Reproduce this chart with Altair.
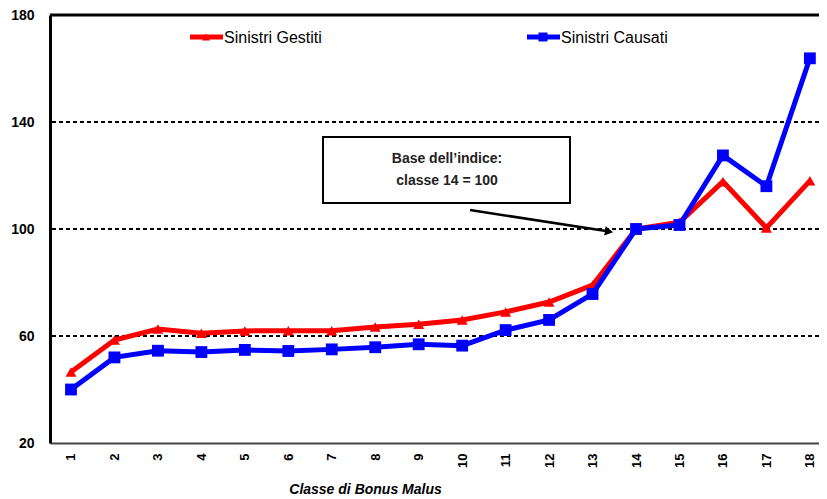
import altair as alt
import pandas as pd

classes = list(range(1, 19))
gestiti = [46.5, 58.5, 62.6, 61.0, 61.9, 62.0, 62.0, 63.4, 64.4, 66.0, 69.0, 72.7, 79.0, 100.0, 102.5, 117.7, 100.4, 118.0]
causati = [40.0, 52.0, 54.5, 54.0, 54.8, 54.4, 55.0, 55.8, 56.9, 56.4, 62.2, 66.0, 75.7, 100.0, 101.5, 127.5, 116.0, 163.8]
y_ticks = [20, 60, 100, 140, 180]
grid_vals = [60, 100, 140]

FONT = "Liberation Sans"

df = pd.DataFrame({
    "classe": classes * 2,
    "valore": gestiti + causati,
    "serie": ["Sinistri Gestiti"] * 18 + ["Sinistri Causati"] * 18,
})

W, H = 769, 428
xscale = alt.Scale(domain=[0.517, 18.21], nice=False, zero=False)
yscale = alt.Scale(domain=[20, 180], nice=False, zero=False)

base = alt.Chart(df)

xaxis = alt.Axis(values=classes, labelAngle=-90, labelFontWeight="bold", labelFontSize=13,
                 labelFont=FONT, labelColor="black", ticks=False, grid=False,
                 labelPadding=10, domainColor="#444444", domainWidth=2,
                 title="Classe di Bonus Malus", titleFont=FONT, titleFontSize=14,
                 titleFontStyle="italic", titleFontWeight="bold", titleColor="black",
                 titleX=315, titleY=46, titleBaseline="middle", titleAlign="center")
yaxis = alt.Axis(values=y_ticks, labelFontWeight="bold", labelFontSize=14, labelFont=FONT,
                 labelColor="black", ticks=False, grid=False, labelPadding=16,
                 domainColor="black", domainWidth=3, title=None)

grid = alt.Chart(pd.DataFrame({"g": grid_vals})).mark_rule(
    color="black", strokeDash=[4, 3], strokeWidth=2.2
).encode(y=alt.Y("g:Q", scale=yscale, axis=None))

top = alt.Chart(pd.DataFrame({"t": [180]})).mark_rule(color="black", strokeWidth=3).encode(
    y=alt.Y("t:Q", scale=yscale, axis=None))

def series(name, color, shape, size, with_axes):
    d = base.transform_filter(alt.datum.serie == name)
    line = d.mark_line(color=color, strokeWidth=5).encode(
        x=alt.X("classe:Q", scale=xscale, axis=xaxis if with_axes else None),
        y=alt.Y("valore:Q", scale=yscale, axis=yaxis if with_axes else None))
    pts = d.mark_point(color=color, filled=True, shape=shape, size=size, opacity=1).encode(
        x=alt.X("classe:Q", scale=xscale, axis=None), y=alt.Y("valore:Q", scale=yscale, axis=None))
    return alt.layer(line, pts).resolve_axis(x="independent", y="independent")

red = series("Sinistri Gestiti", "#ff0000", "triangle-up", 120, True)
blue = series("Sinistri Causati", "#0000ff", "square", 140, False)

def legend_item(name, color, shape, x0, size):
    lc = alt.Chart(pd.DataFrame({"n": [name]}))
    ln = lc.mark_rule(color=color, strokeWidth=5).encode(
        x=alt.value(x0), x2=alt.value(x0 + 33), y=alt.value(22))
    pt = lc.mark_point(color=color, filled=True, shape=shape, size=size, opacity=1).encode(
        x=alt.value(x0 + 16), y=alt.value(22))
    tx = lc.mark_text(align="left", baseline="middle", font=FONT, fontSize=16, color="black").encode(
        x=alt.value(x0 + 34), y=alt.value(23), text="n:N")
    return ln + pt + tx

leg1 = legend_item("Sinistri Gestiti", "#ff0000", "triangle-up", 140, 70)
leg2 = legend_item("Sinistri Causati", "#0000ff", "square", 477, 80)

ann = alt.Chart(pd.DataFrame({"a": [1]}))
box = ann.mark_rect(fill="white", stroke="black", strokeWidth=2).encode(
    x=alt.value(273), x2=alt.value(520), y=alt.value(122), y2=alt.value(188))

def ann_text(s, yy):
    return alt.Chart(pd.DataFrame({"t": [s]})).mark_text(
        font=FONT, fontSize=14, fontWeight="bold", color="#222222", baseline="middle", align="center"
    ).encode(x=alt.value(397), y=alt.value(yy), text="t:N")

txt1 = ann_text("Base dell\u2019indice:", 144)
txt2 = ann_text("classe 14 = 100", 166)
arrow = ann.mark_rule(color="black", strokeWidth=2.5).encode(
    x=alt.value(420), y=alt.value(195), x2=alt.value(556), y2=alt.value(216))
head = ann.mark_point(shape="triangle-right", filled=True, color="black", size=90, angle=9, opacity=1).encode(
    x=alt.value(559), y=alt.value(216.5))

chart = alt.layer(grid, top, red, blue, box, txt1, txt2, arrow, head, leg1, leg2).resolve_axis(
    x="independent", y="independent"
).properties(
    width=W, height=H,
    autosize=alt.AutoSizeParams(type="none"),
    padding={"left": 42, "top": 7, "right": 0, "bottom": 55},
).configure_view(stroke=None).configure(background="white")

chart.save("out.html", embed_options={"renderer": "svg", "actions": False})
